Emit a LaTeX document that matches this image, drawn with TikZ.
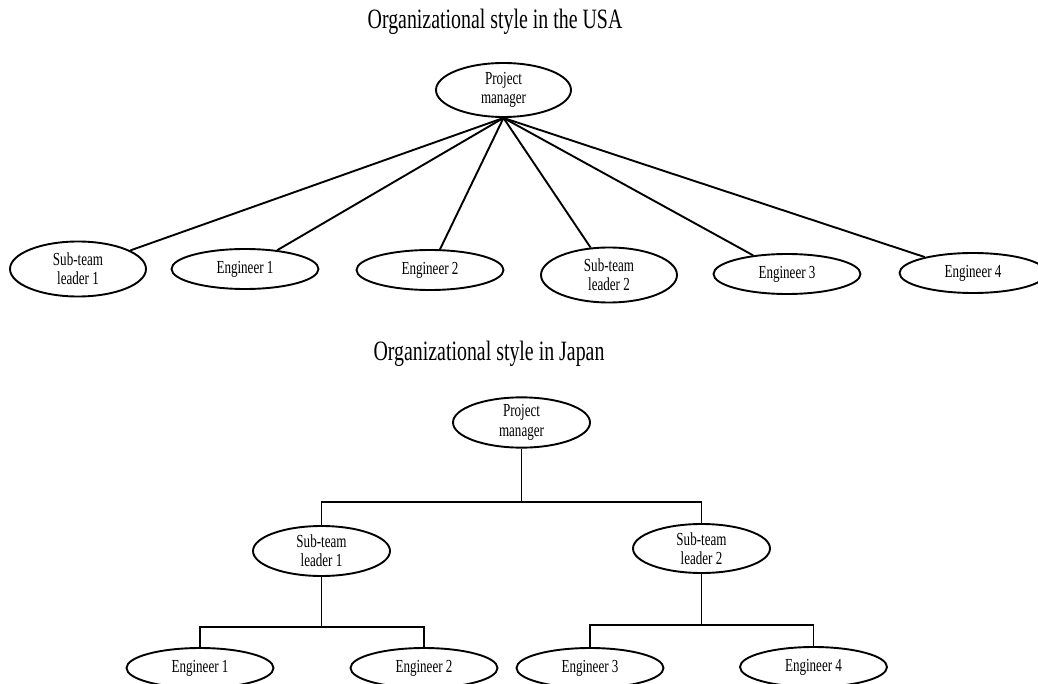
\documentclass[tikz,border=0pt]{standalone}
\usepackage{fontspec}
\setmainfont{Liberation Serif}[FakeStretch=0.71]
\usetikzlibrary{shapes.geometric}
\tikzset{
  role/.style={ellipse, draw, line width=0.95pt, inner sep=0pt, align=center,
    font=\fontsize{9.2pt}{9.7pt}\selectfont},
  roletall/.style={role, minimum width=68pt, minimum height=27.5pt},
  rolewide/.style={role, minimum width=73.5pt, minimum height=20pt},
  link/.style={line width=0.95pt},
  heading/.style={font=\fontsize{14pt}{16pt}\selectfont}
}
\begin{document}
\begin{tikzpicture}[x=0.5pt,y=-0.5pt]
\useasboundingbox (0,0) rectangle (1038,684);

% USA: flat structure
\node[heading] (usatitle) at (495,22) {Organizational style in the USA};
\node[roletall, minimum width=67.5pt, minimum height=27pt] (usapm) at (503.5,90) {Project\\manager};
\node[roletall] (usasl1) at (78,269) {Sub-team\\leader 1};
\node[rolewide] (usae1) at (245,269) {Engineer 1};
\node[rolewide] (usae2) at (430,270) {Engineer 2};
\node[roletall] (usasl2) at (609,275) {Sub-team\\leader 2};
\node[rolewide] (usae3) at (787,274) {Engineer 3};
\node[rolewide] (usae4) at (973,273) {Engineer 4};
\foreach \n in {usasl1,usae1,usae2,usasl2,usae3,usae4}
  \draw[link] (usapm.south) -- (\n);

% Japan: layered structure
\node[heading] (jptitle) at (489,354) {Organizational style in Japan};
\node[roletall, minimum width=68.5pt, minimum height=24.5pt] (jppm) at (521.5,422.5) {Project\\manager};
\node[roletall, minimum width=68.5pt, minimum height=25pt] (jpsl1) at (321.5,551) {Sub-team\\leader 1};
\node[roletall, minimum width=68.5pt, minimum height=24.5pt] (jpsl2) at (701.5,548.5) {Sub-team\\leader 2};
\node[rolewide] (jpe1) at (200,668) {Engineer 1};
\node[rolewide] (jpe2) at (424,668) {Engineer 2};
\node[rolewide] (jpe3) at (590,668) {Engineer 3};
\node[rolewide] (jpe4) at (813.5,667) {Engineer 4};

\coordinate (jpbus) at (521.5,502);
\coordinate (sl1bus) at (321.5,627);
\coordinate (sl2bus) at (701.5,625);
\draw[link] (jppm.south) -- (jpbus);
\draw[link] (jpsl1.north) |- (jpbus) -| (jpsl2.north);
\draw[link] (jpsl1.south) -- (sl1bus);
\draw[link] (jpe1.north) |- (sl1bus) -| (jpe2.north);
\draw[link] (jpsl2.south) -- (sl2bus);
\draw[link] (jpe3.north) |- (sl2bus) -| (jpe4.north);
\end{tikzpicture}
\end{document}
